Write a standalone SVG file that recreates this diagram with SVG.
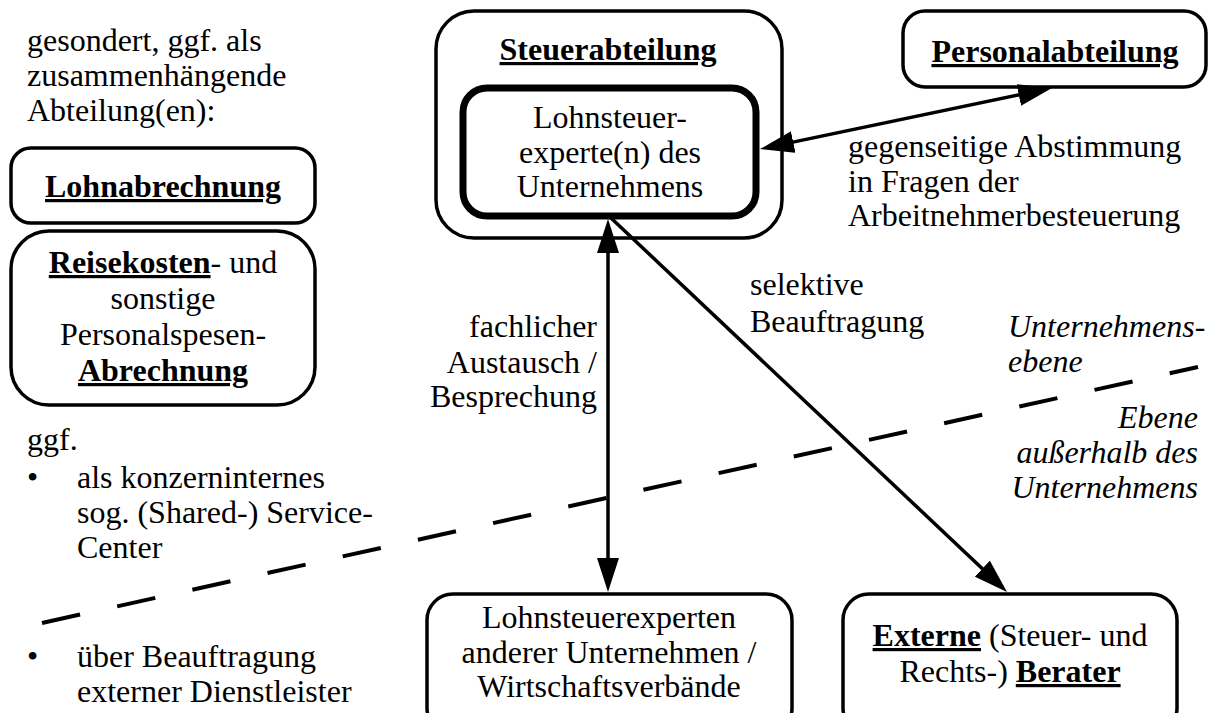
<svg xmlns="http://www.w3.org/2000/svg" width="1210" height="713" viewBox="0 0 1210 713" font-family="'Liberation Serif', 'DejaVu Serif', serif">
  <style>
    text { font-family: 'Liberation Serif', 'DejaVu Serif', serif; font-size: 32px; fill: #000; }
    .c { text-anchor: middle; }
    .r { text-anchor: end; }
    .b { font-weight: bold; }
    .u { text-decoration: underline; }
    .i { font-style: italic; }
    .box { fill: #fff; stroke: #000; stroke-width: 3.5; }
    .inner { fill: #fff; stroke: #000; stroke-width: 7; }
    .edge { fill: none; stroke: #000; stroke-width: 3.5; }
    .level { fill: none; stroke: #000; stroke-width: 4; stroke-dasharray: 39 38; }
  </style>
  <defs>
    <marker id="arrow" viewBox="0 0 34 22" refX="26" refY="11" markerWidth="34" markerHeight="22" markerUnits="userSpaceOnUse" orient="auto-start-reverse">
      <path d="M0,0 L34,11 L0,22 Z" fill="#000"/>
    </marker>
  </defs>
  <rect width="1210" height="713" fill="#fff"/>

  <!-- boundary between company level and external level -->
  <line class="level" x1="42" y1="623" x2="1198" y2="367"/>

  <!-- left column: separate departments -->
  <g id="intro-note">
    <text x="27" y="51">gesondert, ggf. als</text>
    <text x="27" y="86">zusammenhängende</text>
    <text x="27" y="121">Abteilung(en):</text>
  </g>
  <g id="lohnabrechnung">
    <rect class="box" x="11" y="148" width="304" height="75" rx="20"/>
    <text class="c b u" x="163" y="197">Lohnabrechnung</text>
  </g>
  <g id="reisekosten">
    <rect class="box" x="11" y="231" width="304" height="174" rx="38"/>
    <text class="c" x="163" y="273"><tspan class="b u">Reisekosten</tspan>- und</text>
    <text class="c" x="163" y="309">sonstige</text>
    <text class="c" x="163" y="345">Personalspesen-</text>
    <text class="c b u" x="163" y="381">Abrechnung</text>
  </g>
  <g id="options-note">
    <text x="27" y="450">ggf.</text>
    <text x="27" y="488">•</text>
    <text x="77" y="488">als konzerninternes</text>
    <text x="77" y="523">sog. (Shared-) Service-</text>
    <text x="77" y="558">Center</text>
    <text x="27" y="667">•</text>
    <text x="77" y="667">über Beauftragung</text>
    <text x="77" y="702">externer Dienstleister</text>
  </g>

  <!-- tax department with in-house payroll tax experts -->
  <g id="steuerabteilung">
    <rect class="box" x="436" y="11" width="346" height="227" rx="38"/>
    <text class="c b u" x="608" y="60">Steuerabteilung</text>
  </g>
  <g id="lohnsteuerexperten-intern">
    <rect class="inner" x="463" y="88" width="293" height="128" rx="24"/>
    <text class="c" x="610" y="128">Lohnsteuer-</text>
    <text class="c" x="610" y="163">experte(n) des</text>
    <text class="c" x="610" y="197">Unternehmens</text>
  </g>

  <g id="personalabteilung">
    <rect class="box" x="903" y="11" width="303" height="76" rx="22"/>
    <text class="c b u" x="1055" y="62">Personalabteilung</text>
  </g>

  <g id="lohnsteuerexperten-extern">
    <rect class="box" x="427" y="594" width="365" height="140" rx="26"/>
    <text class="c" x="609" y="628">Lohnsteuerexperten</text>
    <text class="c" x="609" y="663">anderer Unternehmen /</text>
    <text class="c" x="609" y="697">Wirtschaftsverbände</text>
  </g>

  <g id="externe-berater">
    <rect class="box" x="843" y="594" width="334" height="140" rx="26"/>
    <text class="c" x="1010" y="646"><tspan class="b u">Externe</tspan> (Steuer- und</text>
    <text class="c" x="1010" y="682">Rechts-) <tspan class="b u">Berater</tspan></text>
  </g>

  <!-- connectors -->
  <g id="connectors">
    <line class="edge" x1="767.8" y1="147.4" x2="1044.2" y2="89.6" marker-start="url(#arrow)" marker-end="url(#arrow)"/>
    <line class="edge" x1="608" y1="227" x2="608" y2="584" marker-start="url(#arrow)" marker-end="url(#arrow)"/>
    <line class="edge" x1="611" y1="218" x2="1001.2" y2="586.5" marker-end="url(#arrow)"/>
  </g>

  <!-- connector labels -->
  <g id="labels">
    <text x="848" y="157">gegenseitige Abstimmung</text>
    <text x="848" y="192">in Fragen der</text>
    <text x="848" y="226">Arbeitnehmerbesteuerung</text>
    <text x="750" y="295">selektive</text>
    <text x="750" y="332">Beauftragung</text>
    <text class="r" x="597" y="337">fachlicher</text>
    <text class="r" x="597" y="373">Austausch /</text>
    <text class="r" x="597" y="407">Besprechung</text>
  </g>

  <!-- level captions -->
  <g id="level-captions">
    <text class="i" x="1008" y="337">Unternehmens-</text>
    <text class="i" x="1008" y="372">ebene</text>
    <text class="i r" x="1198" y="428">Ebene</text>
    <text class="i r" x="1198" y="463">außerhalb des</text>
    <text class="i r" x="1198" y="498">Unternehmens</text>
  </g>
</svg>
